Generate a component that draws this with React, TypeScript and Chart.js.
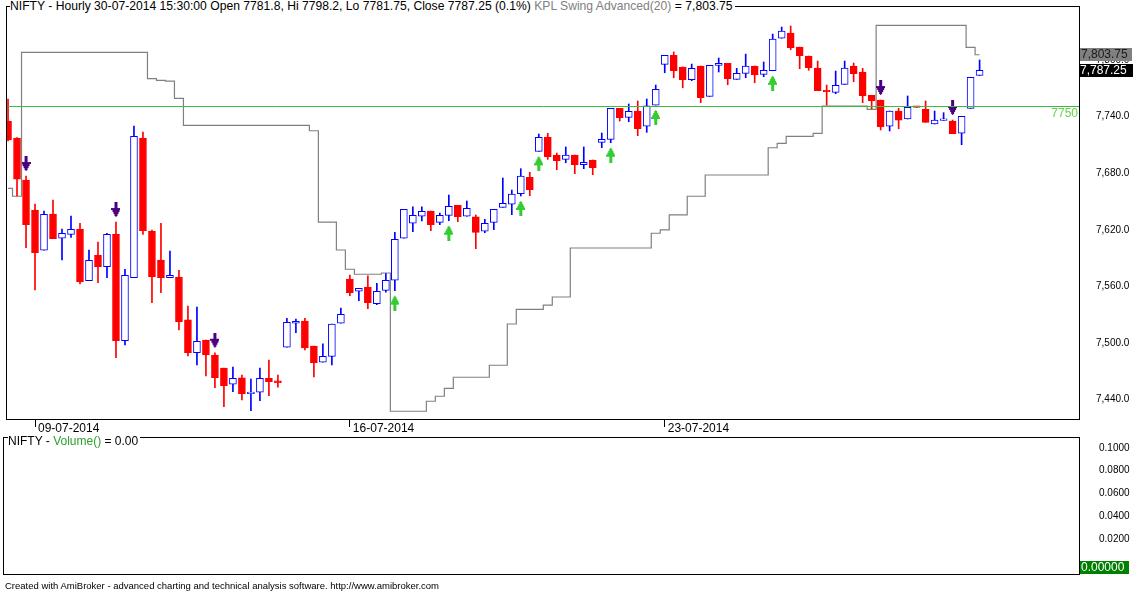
import React, { useEffect, useRef } from 'react';
import { Chart, registerables } from 'chart.js';

Chart.register(...registerables);

// ---- data ----
const dayLabels = ['08-07-2014', '09-07-2014', '10-07-2014', '11-07-2014', '14-07-2014', '15-07-2014', '16-07-2014', '17-07-2014', '18-07-2014', '21-07-2014', '22-07-2014', '23-07-2014', '24-07-2014', '25-07-2014', '28-07-2014', '30-07-2014'];
const barsPerDay = [3, 7, 7, 7, 7, 7, 7, 7, 7, 7, 7, 7, 7, 7, 7, 8];
const axisDateLabels = ['09-07-2014', '16-07-2014', '23-07-2014'];

const opens = [
  7733.6, 7715.6, 7671.1, 7639.3, 7596.7, 7635.1, 7609.4, 7613.6, 7619.2, 7564.5,
  7591.7, 7579.3, 7613.9, 7500.9, 7567.7, 7715.6, 7616.8, 7586.4, 7567.7, 7568.4,
  7522.9, 7488.2, 7501.7, 7485.8, 7472.0, 7454.8, 7461.5, 7444.8, 7446.3, 7461.1,
  7458.3, 7494.0, 7519.4, 7521.8, 7495.3, 7478.1, 7484.4, 7519.4, 7566.3, 7553.3,
  7557.8, 7540.1, 7554.3, 7564.9, 7609.4, 7625.3, 7632.7, 7638.3, 7626.3, 7633.7,
  7644.3, 7632.7, 7632.0, 7616.8, 7626.3, 7642.2, 7645.4, 7656.6, 7674.0, 7701.5,
  7716.6, 7697.6, 7693.0, 7697.6, 7687.3, 7692.3, 7711.0, 7714.2, 7747.0, 7737.5,
  7744.2, 7728.0, 7750.5, 7793.6, 7803.2, 7790.8, 7777.3, 7791.8, 7759.7, 7792.6,
  7794.7, 7777.7, 7784.1, 7791.8, 7783.0, 7786.8, 7821.2, 7826.8, 7811.9, 7802.4,
  7789.7, 7766.1, 7764.0, 7772.4, 7791.8, 7785.5, 7760.8, 7755.8, 7728.0, 7744.2,
  7735.7, 7748.4, 7746.0, 7730.4, 7734.3, 7733.6, 7720.6, 7747.0, 7781.8,
];
const highs = [
  7756.9, 7716.0, 7675.3, 7645.7, 7638.3, 7649.9, 7619.2, 7633.0, 7625.3, 7597.0,
  7605.5, 7614.7, 7626.6, 7576.6, 7728.3, 7721.9, 7618.2, 7625.3, 7595.9, 7575.5,
  7537.7, 7536.6, 7501.7, 7488.2, 7472.0, 7473.1, 7464.6, 7460.4, 7472.0, 7480.5,
  7464.6, 7524.7, 7523.9, 7524.7, 7495.3, 7497.5, 7518.6, 7535.6, 7570.5, 7556.4,
  7569.5, 7561.7, 7571.9, 7615.7, 7640.1, 7642.8, 7642.8, 7638.3, 7636.2, 7655.2,
  7644.3, 7648.9, 7634.1, 7629.5, 7640.1, 7673.2, 7660.5, 7683.1, 7679.3, 7719.8,
  7720.6, 7699.7, 7706.1, 7697.6, 7706.1, 7692.3, 7720.9, 7747.0, 7747.0, 7751.6,
  7754.8, 7756.9, 7771.7, 7803.2, 7806.7, 7790.8, 7793.9, 7791.8, 7792.6, 7800.3,
  7794.7, 7789.4, 7804.5, 7791.8, 7796.1, 7825.7, 7833.1, 7834.2, 7811.9, 7802.4,
  7797.1, 7771.7, 7786.5, 7797.1, 7795.0, 7789.4, 7760.8, 7755.8, 7744.2, 7747.0,
  7760.1, 7748.4, 7754.8, 7744.2, 7742.4, 7734.6, 7738.6, 7779.9, 7798.2,
];
const lows = [
  7712.4, 7654.2, 7599.4, 7554.6, 7596.7, 7608.9, 7586.4, 7610.4, 7561.0, 7564.5,
  7562.4, 7567.7, 7482.9, 7496.4, 7567.7, 7613.6, 7541.2, 7551.8, 7567.7, 7512.3,
  7484.7, 7475.2, 7463.6, 7451.2, 7431.1, 7446.9, 7438.2, 7426.8, 7437.4, 7442.7,
  7451.6, 7494.0, 7509.4, 7491.1, 7462.5, 7478.1, 7475.2, 7519.4, 7548.6, 7543.3,
  7534.8, 7539.1, 7552.2, 7553.9, 7609.4, 7616.4, 7627.7, 7617.4, 7623.8, 7628.0,
  7627.0, 7632.7, 7598.4, 7615.3, 7618.5, 7642.2, 7634.4, 7654.2, 7654.5, 7701.5,
  7693.0, 7682.0, 7689.4, 7677.8, 7683.1, 7676.7, 7705.3, 7710.6, 7733.6, 7732.8,
  7718.0, 7721.6, 7750.5, 7784.7, 7779.4, 7768.8, 7776.3, 7753.0, 7759.7, 7785.5,
  7772.0, 7777.7, 7779.4, 7774.1, 7780.5, 7786.8, 7821.2, 7809.1, 7789.0, 7787.3,
  7765.7, 7750.5, 7762.5, 7772.4, 7775.2, 7753.0, 7746.5, 7724.1, 7723.0, 7725.4,
  7735.7, 7748.0, 7732.2, 7730.4, 7734.3, 7720.1, 7708.5, 7747.0, 7781.75,
];
const closes = [
  7713.5, 7671.9, 7623.8, 7594.1, 7634.8, 7608.9, 7614.7, 7618.9, 7563.1, 7586.1,
  7579.3, 7613.6, 7500.9, 7570.2, 7717.4, 7617.4, 7568.7, 7567.7, 7570.2, 7521.1,
  7488.2, 7500.3, 7485.8, 7461.8, 7453.3, 7461.1, 7444.8, 7446.3, 7461.1, 7457.5,
  7456.5, 7520.4, 7521.5, 7493.2, 7477.7, 7484.4, 7518.6, 7528.9, 7551.8, 7556.4,
  7541.2, 7553.3, 7564.9, 7608.3, 7640.1, 7633.7, 7638.0, 7623.8, 7633.7, 7643.3,
  7632.3, 7641.1, 7615.7, 7625.3, 7640.1, 7646.4, 7656.3, 7675.3, 7660.8, 7716.3,
  7695.8, 7691.5, 7697.6, 7687.3, 7689.9, 7684.1, 7714.2, 7747.0, 7737.1, 7743.9,
  7725.4, 7749.8, 7767.2, 7803.2, 7786.8, 7777.3, 7789.4, 7758.3, 7792.6, 7794.7,
  7778.4, 7784.1, 7791.8, 7782.6, 7787.3, 7820.4, 7828.9, 7811.2, 7802.7, 7790.0,
  7765.7, 7764.6, 7771.4, 7789.7, 7783.7, 7760.4, 7755.1, 7727.6, 7744.2, 7734.6,
  7748.1, 7748.0, 7732.2, 7734.6, 7734.8, 7720.1, 7738.6, 7779.9, 7787.25,
];
// KPL Swing Advanced(20) step line
const kplSwing = [
  7662.3, 7653.9, 7806.3, 7806.3, 7806.3, 7806.3, 7806.3, 7806.3, 7806.3, 7806.3,
  7806.3, 7806.3, 7806.3, 7806.3, 7806.3, 7806.3, 7778.4, 7776.7, 7775.9, 7757.6,
  7729.0, 7729.0, 7729.0, 7729.0, 7729.0, 7729.0, 7729.0, 7729.0, 7729.0, 7729.0,
  7729.0, 7729.0, 7729.0, 7729.0, 7723.3, 7626.6, 7626.6, 7597.0, 7576.6, 7571.3,
  7571.3, 7571.3, 7572.6, 7426.2, 7426.2, 7426.2, 7426.2, 7436.8, 7442.1, 7450.5,
  7462.2, 7462.2, 7462.2, 7462.2, 7474.9, 7474.9, 7518.6, 7534.2, 7534.2, 7534.2,
  7538.7, 7547.2, 7547.2, 7599.1, 7599.1, 7599.1, 7599.1, 7599.1, 7599.1, 7599.1,
  7599.1, 7599.1, 7614.7, 7618.2, 7634.1, 7634.1, 7653.9, 7653.9, 7676.4, 7676.4,
  7676.4, 7676.4, 7676.4, 7676.4, 7676.4, 7705.3, 7710.0, 7717.4, 7717.4, 7717.4,
  7720.6, 7749.5, 7749.5, 7749.5, 7749.5, 7749.5, 7746.0, 7834.9, 7834.9, 7834.9,
  7834.9, 7834.9, 7834.9, 7834.9, 7834.9, 7834.9, 7834.9, 7811.6, 7803.75,
];
const sellBars = [2, 12, 23, 97, 105];
const buyBars = [43, 49, 57, 59, 67, 72, 85];
const levelLine = 7750;
const priceTickStep = 60;
const volumeTicks = [0.02, 0.04, 0.06, 0.08, 0.1];
const volumeLast = 0;

// ---- derived ----
const categories: string[] = [];
const dayStart: number[] = [];
dayLabels.forEach((d, i) => {
  dayStart.push(categories.length);
  for (let k = 0; k < barsPerDay[i]; k++) categories.push(d);
});
const xTickIdx = dayStart.filter((s) => axisDateLabels.includes(categories[s]));
const nBars = opens.length;
const X_MIN = -0.225;
const X_MAX = 119.05;

const FONT = '"Liberation Sans", Arial, sans-serif';
const fmt1 = (v: number) => v.toLocaleString('en-US', { minimumFractionDigits: 1, maximumFractionDigits: 1 });
const fmt2 = (v: number) => v.toLocaleString('en-US', { minimumFractionDigits: 2, maximumFractionDigits: 2 });

function makeArrow(up: boolean, color: string): HTMLCanvasElement {
  const W = 9, L = 15, G = 5;
  const H = 2 * (L + G);
  const c = document.createElement('canvas');
  c.width = W;
  c.height = H;
  const g = c.getContext('2d')!;
  g.fillStyle = color;
  const rowsHead = 9;
  for (let r = 0; r < rowsHead; r++) {
    const hw = Math.min(4, Math.floor((r + 1) / 2));
    const yy = up ? H / 2 + G + r : H / 2 - G - 1 - r;
    g.fillRect(4 - hw, yy, 2 * hw + 1, 1);
  }
  const shaftLen = L - rowsHead;
  if (up) g.fillRect(3, H / 2 + G + rowsHead, 3, shaftLen);
  else g.fillRect(3, H / 2 - G - L, 3, shaftLen);
  return c;
}

function drawTag(ctx: CanvasRenderingContext2D, y: number, text: string, bg: string, fg: string, x0: number, w: number) {
  ctx.fillStyle = bg;
  ctx.fillRect(x0, Math.round(y - 6.5), w, 13);
  ctx.fillStyle = fg;
  ctx.font = `12px ${FONT}`;
  ctx.textAlign = 'left';
  ctx.textBaseline = 'middle';
  ctx.fillText(text, x0 + 1, Math.round(y - 6.5) + 7);
}

const topPlugin = {
  id: 'amiTop',
  afterDatasetsDraw(chart: any) {
    const { ctx, chartArea: a, scales } = chart;
    const ly = Math.round(scales.y.getPixelForValue(levelLine)) + 0.5;
    ctx.save();
    ctx.strokeStyle = '#3cbc3c';
    ctx.lineWidth = 1;
    ctx.beginPath();
    ctx.moveTo(scales.x.getPixelForValue(0), ly);
    ctx.lineTo(a.right, ly);
    ctx.stroke();
    ctx.font = `12px ${FONT}`;
    ctx.fillStyle = '#66d04a';
    ctx.textAlign = 'right';
    ctx.textBaseline = 'middle';
    ctx.fillText(String(levelLine), a.right - 1, ly + 7.5);
    ctx.strokeStyle = '#000';
    ctx.strokeRect(a.left + 0.5, a.top + 0.5, a.right - a.left, a.bottom - a.top);
    ctx.restore();
  },
  afterDraw(chart: any) {
    const { ctx, chartArea: a, scales } = chart;
    ctx.save();
    drawTag(ctx, scales.y.getPixelForValue(kplSwing[nBars - 1]), fmt2(kplSwing[nBars - 1]), '#808080', '#1a1a1a', a.right + 1, 52);
    drawTag(ctx, scales.y.getPixelForValue(closes[nBars - 1]), fmt2(closes[nBars - 1]), '#000', '#fff', a.right, 54);
    ctx.restore();
  },
};

const bottomPlugin = {
  id: 'amiBottom',
  afterDraw(chart: any) {
    const { ctx, chartArea: a, scales } = chart;
    ctx.save();
    ctx.strokeStyle = '#000';
    ctx.lineWidth = 1;
    ctx.strokeRect(a.left + 0.5, a.top + 0.5, a.right - a.left, a.bottom - a.top);
    // last-value tag, kept inside the pane's bottom edge
    const ty = Math.max(scales.y.getPixelForValue(volumeLast), a.bottom - 7);
    drawTag(ctx, ty, volumeLast.toFixed(5), '#008000', '#fff', a.right + 1, 49);
    ctx.restore();
  },
};

export default function App() {
  const topRef = useRef<HTMLCanvasElement>(null);
  const botRef = useRef<HTMLCanvasElement>(null);

  useEffect(() => {
    const up = (i: number) => closes[i] >= opens[i];
    const sellArrow = makeArrow(false, '#4b0082');
    const buyArrow = makeArrow(true, '#33cc33');

    const top = new Chart(topRef.current!, {
      type: 'bar',
      data: {
        datasets: [
          {
            type: 'line',
            label: 'KPL Swing Advanced(20)',
            data: kplSwing.map((v, i) => ({ x: i, y: v })),
            borderColor: '#808080',
            borderWidth: 1.2,
            pointRadius: 0,
            stepped: 'middle',
            order: 5,
          } as any,
          {
            label: 'wick',
            data: highs.map((h, i) => ({ x: i, y: [lows[i], h] })),
            backgroundColor: (c: any) => (up(c.dataIndex) ? '#0000ff' : '#ff0000'),
            barThickness: 1,
            grouped: false,
            minBarLength: 1,
            order: 4,
          } as any,
          {
            label: 'body',
            data: opens.map((o, i) => ({ x: i, y: [o, closes[i]] })),
            backgroundColor: (c: any) => (up(c.dataIndex) ? '#ffffff' : '#ff0000'),
            borderColor: (c: any) => (up(c.dataIndex) ? '#0000ff' : '#ff0000'),
            borderWidth: 1,
            borderSkipped: false,
            barThickness: 7,
            grouped: false,
            minBarLength: 1.5,
            order: 3,
          } as any,
          {
            type: 'line',
            label: 'sell',
            data: sellBars.map((i) => ({ x: i, y: highs[i] })),
            showLine: false,
            pointStyle: sellArrow,
            pointRadius: 5,
            order: 1,
          } as any,
          {
            type: 'line',
            label: 'buy',
            data: buyBars.map((i) => ({ x: i, y: lows[i] })),
            showLine: false,
            pointStyle: buyArrow,
            pointRadius: 5,
            order: 1,
          } as any,
        ],
      },
      options: {
        animation: false,
        responsive: false,
        maintainAspectRatio: false,
        devicePixelRatio: 1,
        layout: { padding: { left: 3, top: 6, right: 0, bottom: 0 } },
        plugins: { legend: { display: false }, tooltip: { enabled: false }, title: { display: false } },
        scales: {
          x: {
            type: 'linear',
            min: X_MIN,
            max: X_MAX,
            offset: false,
            afterBuildTicks: (s: any) => {
              s.ticks = xTickIdx.map((v) => ({ value: v }));
            },
            afterFit: (s: any) => {
              s.height = 18;
            },
            ticks: {
              autoSkip: false,
              maxRotation: 0,
              align: 'start',
              labelOffset: 3,
              padding: -6,
              color: '#000',
              font: { family: FONT, size: 12 },
              callback: (v: any) => categories[v] ?? '',
            },
            grid: { display: true, drawOnChartArea: false, drawTicks: true, tickLength: 8, color: '#000', offset: false },
            border: { display: false },
          } as any,
          y: {
            type: 'linear',
            position: 'right',
            min: 7418,
            max: 7855.4,
            afterFit: (s: any) => {
              s.width = 61;
            },
            ticks: {
              stepSize: priceTickStep,
              includeBounds: false,
              padding: 0,
              labelOffset: 1.5,
              color: '#000',
              font: { family: FONT, size: 10 },
              callback: (v: any) => fmt1(Number(v)),
            },
            grid: { display: false, drawTicks: true, tickLength: 17 },
            border: { display: false },
          } as any,
        },
      },
      plugins: [topPlugin],
    });

    const bottom = new Chart(botRef.current!, {
      type: 'bar',
      data: { datasets: [] },
      options: {
        animation: false,
        responsive: false,
        maintainAspectRatio: false,
        devicePixelRatio: 1,
        layout: { padding: { left: 3, top: 7, right: 0, bottom: 3 } },
        plugins: { legend: { display: false }, tooltip: { enabled: false } },
        scales: {
          x: { type: 'linear', min: X_MIN, max: X_MAX, display: false },
          y: {
            type: 'linear',
            position: 'right',
            min: -0.0127,
            max: 0.1077,
            afterFit: (s: any) => {
              s.width = 61;
            },
            afterBuildTicks: (s: any) => {
              s.ticks = volumeTicks.map((v) => ({ value: v }));
            },
            ticks: {
              padding: 0,
              labelOffset: 2,
              color: '#000',
              font: { family: FONT, size: 10 },
              callback: (v: any) => Number(v).toFixed(4),
            },
            grid: { display: false, drawTicks: true, tickLength: 20 },
            border: { display: false },
          } as any,
        },
      },
      plugins: [bottomPlugin],
    });

    return () => {
      top.destroy();
      bottom.destroy();
    };
  }, []);

  const textBase: React.CSSProperties = {
    position: 'absolute',
    fontFamily: FONT,
    whiteSpace: 'nowrap',
    background: '#fff',
    color: '#000',
  };

  return (
    <div style={{ position: 'fixed', left: 0, top: 0, width: 1140, height: 593, background: '#fff', overflow: 'hidden' }}>
      <canvas ref={topRef} width={1140} height={437} style={{ position: 'absolute', left: 0, top: 0 }} />
      <canvas ref={botRef} width={1140} height={150} style={{ position: 'absolute', left: 0, top: 430 }} />
      <div style={{ ...textBase, left: 10, top: 0, fontSize: 12.15, lineHeight: '13px', paddingRight: 2 }}>
        NIFTY - Hourly 30-07-2014 15:30:00 Open 7781.8, Hi 7798.2, Lo 7781.75, Close 7787.25 (0.1%){' '}
        <span style={{ color: '#808080' }}>KPL Swing Advanced(20)</span> = 7,803.75
      </div>
      <div style={{ ...textBase, left: 8, top: 435, fontSize: 12, lineHeight: '13px', paddingRight: 2 }}>
        NIFTY - <span style={{ color: '#2e9e2e' }}>Volume()</span> = 0.00
      </div>
      <div style={{ ...textBase, left: 5, top: 580, fontSize: 9.5, lineHeight: '12px', background: 'transparent' }}>
        Created with AmiBroker - advanced charting and technical analysis software. http://www.amibroker.com
      </div>
    </div>
  );
}
